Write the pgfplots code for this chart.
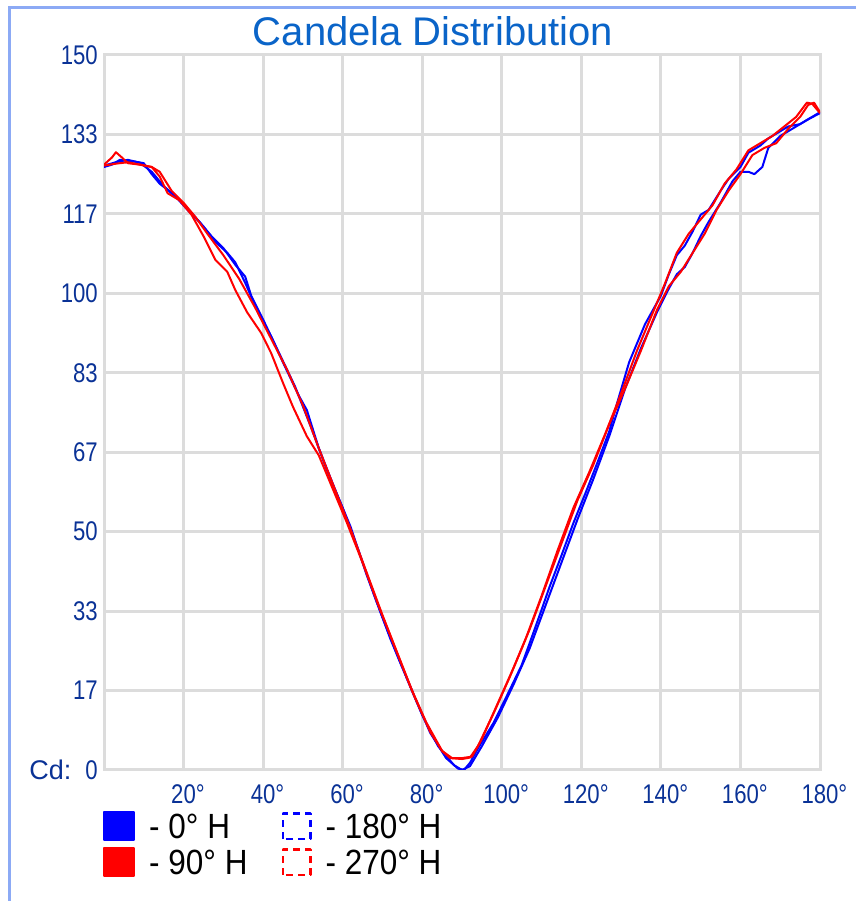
\documentclass[border=0pt]{standalone}
\usepackage{pgfplots}
\pgfplotsset{compat=1.18}
\usepackage{fontspec}
\setmainfont{Liberation Sans}
\newfontfamily\tickfont[FakeStretch=0.82]{Liberation Sans}
\newfontfamily\legfont[FakeStretch=0.9]{Liberation Sans}
\definecolor{gridgray}{HTML}{DCDCDC}
\definecolor{tickblue}{HTML}{0A3296}
\definecolor{titleblue}{HTML}{0A64C8}
\definecolor{framecol}{HTML}{8CAAF5}
\definecolor{cblue}{HTML}{0000FF}
\definecolor{cred}{HTML}{FF0000}
\begin{document}
\begin{tikzpicture}
\useasboundingbox (0pt,0pt) rectangle (856pt,901pt);
\draw[framecol, line width=3pt] (9pt,0pt) -- (9pt,893pt) -- (856pt,893pt);
\node[anchor=base, text=titleblue, font=\fontsize{40}{40}\selectfont, inner sep=0pt] at (433pt,855pt) {Candela Distribution};
\begin{axis}[
  at={(104pt,131pt)}, anchor=south west,
  scale only axis, width=716pt, height=715pt,
  xmin=0, xmax=180, ymin=0, ymax=150,
  xtick={20,40,60,80,100,120,140,160,180},
  xticklabels={20\rlap{°},40\rlap{°},60\rlap{°},80\rlap{°},100\rlap{°},120\rlap{°},140\rlap{°},160\rlap{°},180\rlap{°}},
  ytick={0,16.6667,33.3333,50,66.6667,83.3333,100,116.6667,133.3333,150},
  yticklabels={{\rmfamily Cd:}\hspace{14pt}0,17,33,50,67,83,100,117,133,150},
  major tick length=0pt,
  grid=major,
  major grid style={draw=gridgray, line width=3pt},
  axis line style={draw=gridgray, line width=3pt},
  xticklabel style={font={\tickfont\fontsize{27}{27}\selectfont}, text=tickblue, anchor=north, inner sep=0pt, yshift=-14pt},
  yticklabel style={font={\tickfont\fontsize{27}{27}\selectfont}, text=tickblue, anchor=east, inner sep=0pt, xshift=-6pt},
  legend columns=2,
  legend style={draw=none, fill=none, inner sep=0pt, at={(0,0)}, anchor=north west, xshift=-1pt, yshift=-41pt,
    row sep=6pt, cells={anchor=base west},
    nodes={inner sep=0pt, text depth=0pt, font={\legfont\fontsize{35}{35}\selectfont}, text=black},
    /tikz/every odd column/.append style={column sep=14pt},
    /tikz/every even column/.append style={column sep=34pt}},
  every axis plot/.append style={line width=2pt, line join=round},
]
% 0 deg H
\addplot[cblue, legend image code/.code={\fill[cblue] (0pt,-2pt) rectangle (30pt,26pt);}] coordinates {
(0,126.5)(2,127)(4,128)(6,127.8)(8,127.6)(10,127.3)(12,125)(14,123)(16,121.7)(19,119.6)(22,116.9)(25,114)(28,110.8)(31,108.5)(33,106.5)(35.5,102.2)(39,95.5)(42,91)(45,85.5)(47,82)(49,78.5)(51,75.5)(54,67.5)(58,59)(62,51)(66,41)(70,32)(74,23.5)(78,15.5)(82,7.8)(86,2.5)(89,0.3)(90.5,0)(92,1.5)(94,4.5)(98,10)(102,16.8)(105,22)(107,26.6)(110,33.6)(112,38.4)(115,45)(118,51.8)(121,58)(124,64.4)(127,71)(129,77)(132,85.5)(136,93.5)(140,99.5)(142,104)(144,108)(146,110)(148,113)(150,116.5)(152,117.5)(155,121.5)(157,124)(160,126.5)(162,129.5)(165,131)(167,132.5)(170,134)(172,135)(175,135.5)(177,136.5)(180,137.8)
};
\addlegendentry{- 0° H}
% 180 deg H
\addplot[cblue, legend image code/.code={\draw[cblue, line width=2.5pt, dash pattern=on 7pt off 5pt] (1.25pt,-0.75pt) rectangle (28.75pt,24.75pt);}] coordinates {
(0,126.8)(3,127.5)(6,128)(9,127.4)(12,125.5)(15,122.5)(18,120.3)(21,117.5)(24,115)(27,112)(30,109.5)(33,106)(35.5,103.5)(37,99.5)(40,94.5)(44,87.5)(48,80.5)(52,72)(56,63)(60,55)(64,46)(68,36.5)(72,27.5)(76,19.5)(80,11.5)(84,5)(88,1)(90,0)(92,0.8)(95,5)(99,11)(103,18)(107,25.5)(111,34.5)(115,43.5)(119,52.5)(123,61)(127,70)(131,80)(135,88.5)(139,96)(142,101)(144,104)(146,105.5)(148,108.5)(150,112)(152,115)(155,119)(158,123.5)(160,125.5)(162,125.5)(163.5,125)(165.5,126.5)(167,130.5)(170,133)(173,134.5)(176,136)(178,137)(180,138)
};
\addlegendentry{- 180° H}
% 90 deg H
\addplot[cred, legend image code/.code={\fill[cred] (0pt,-2pt) rectangle (30pt,26pt);}] coordinates {
(0,126.8)(3,127.2)(6,127.5)(9,127)(12,126.5)(14,125.5)(17,121.5)(20,119)(23,116)(26,112.5)(30,108)(34,103)(38,97)(42,90.5)(46,84)(50,76.5)(54,67.5)(58,59)(62,50.5)(66,41.5)(70,32.5)(74,24)(78,15.5)(82,8)(85,4)(87,2.5)(90,2.3)(92,2.6)(94,5)(98,12)(102,19.5)(106,27.5)(110,36.5)(114,46)(118,55)(122,62.5)(126,70.5)(130,79)(134,88)(138,96)(141,102)(144,108.5)(147,112.5)(150,115.5)(153,118.5)(156,123)(159,126)(162,130)(165,131.5)(168,133)(171,135)(174,137)(176.7,140)(178,139.8)(180,137.8)
};
\addlegendentry{- 90° H}
% 270 deg H
\addplot[cred, legend image code/.code={\draw[cred, line width=2.5pt, dash pattern=on 7pt off 5pt] (1.25pt,-0.75pt) rectangle (28.75pt,24.75pt);}] coordinates {
(0,127)(2,128.5)(3,129.6)(4.5,128.5)(6,127.3)(9,127)(12,126.5)(14,124.5)(16,121)(19,119.5)(22,116.5)(25,112)(28,107)(31,104.5)(33,100.7)(36,96)(39.5,91.7)(42,87.5)(45,81.2)(47.5,76.2)(51,70)(54,66)(57,60)(61,52)(65,43.5)(69,34.5)(73,26)(77,17.5)(81,10)(85,4)(87.5,2.5)(90,2.5)(92.5,2.8)(95,6.5)(99,14)(103,21.5)(107,29.5)(111,38.5)(115,47.5)(119,56.5)(123,64)(127,72.5)(131,80)(135,88)(139,96.5)(142,101.5)(145,104.5)(148,108.5)(151,112.5)(154,117.5)(157,121.5)(160,125)(163,129)(166,130.5)(169,131.5)(172,134.5)(175,137)(177,139.5)(178.5,140)(180,138)
};
\addlegendentry{- 270° H}
\end{axis}
\end{tikzpicture}
\end{document}
